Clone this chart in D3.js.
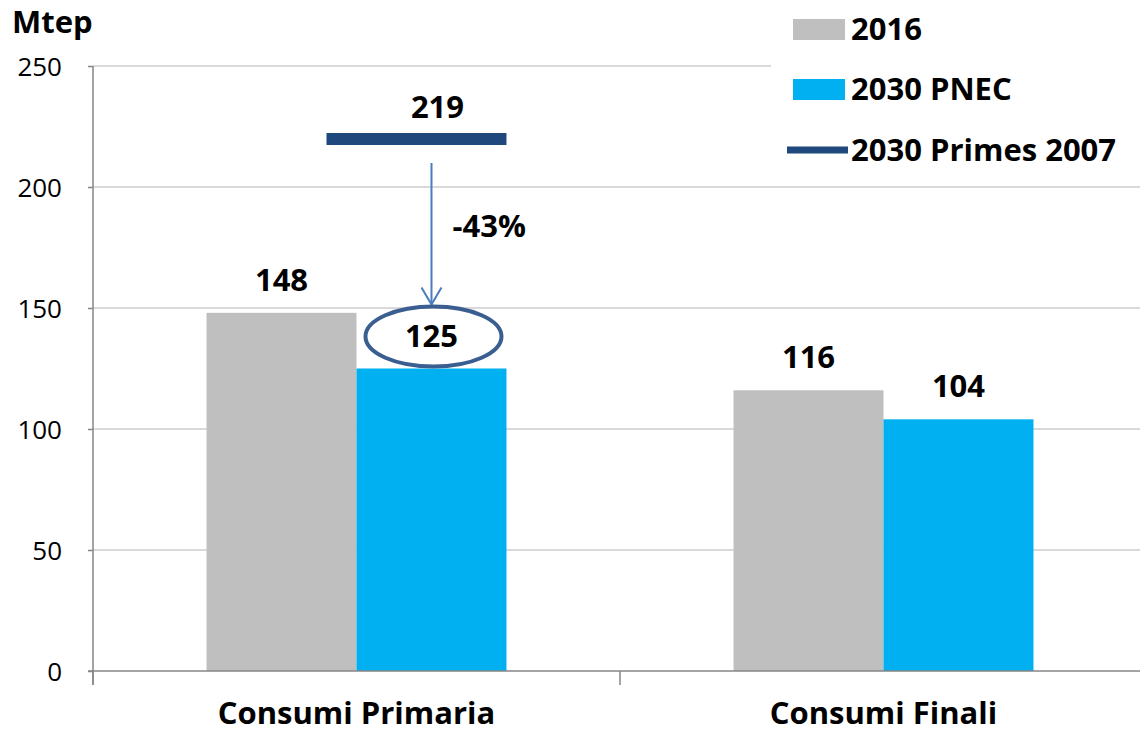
<!DOCTYPE html>
<html>
<head>
<meta charset="utf-8">
<title>Consumi energetici</title>
<script src="https://cdn.jsdelivr.net/npm/d3@7"></script>
<style>
  body { margin: 0; background: #fff; }
  text { font-family: "Open Sans", sans-serif; fill: #000; }
  .lbl { font-weight: bold; font-size: 31px; }
  .tick text { font-size: 26px; }
</style>
</head>
<body>
<script>
// data
var categories = ["Consumi Primaria", "Consumi Finali"];
var seriesNames = ["2016", "2030 PNEC"];
var values2016 = [148, 116];
var valuesPnec = [125, 104];
var primes2007 = [219];          // only for Consumi Primaria
var yTicks = [0, 50, 100, 150, 200, 250];
var deltaLabel = "-43%";

var colors = { "2016": "#bfbfbf", "2030 PNEC": "#00b0f0", primes: "#1f497d" };

var W = 1140, H = 734;
var plotL = 93, plotR = 1147, plotT = 66, plotB = 671;

var svg = d3.select("body").append("svg")
    .attr("width", W).attr("height", H);

var y = d3.scaleLinear().domain([0, 250]).range([plotB, plotT]);
var x0 = d3.scaleBand().domain(categories).range([plotL, plotR]);
var x1 = d3.scaleBand().domain(seriesNames).range([0, x0.bandwidth()]).paddingOuter(0.757);
var bw = x1.bandwidth();

// gridlines
svg.append("g").selectAll("line")
    .data(yTicks.slice(1))
    .enter().append("line")
    .attr("x1", plotL).attr("x2", W)
    .attr("y1", function(d) { return y(d); })
    .attr("y2", function(d) { return y(d); })
    .attr("stroke", "#d9d9d9").attr("stroke-width", 2);

// y axis
var yAxis = svg.append("g")
    .attr("class", "tick")
    .attr("transform", "translate(" + plotL + ",0)")
    .call(d3.axisLeft(y).tickValues(yTicks).tickSize(5).tickPadding(26));
yAxis.select(".domain").remove();
yAxis.selectAll("line").attr("stroke", "#868686").attr("stroke-width", 1.5);
yAxis.selectAll("text").attr("dy", "0.35em").style("font-size", "26px").style("font-family", "Open Sans");
svg.append("line")
    .attr("x1", plotL).attr("x2", plotL)
    .attr("y1", plotT).attr("y2", plotB + 14)
    .attr("stroke", "#868686").attr("stroke-width", 1.5);

// bars
var rows = categories.map(function(c, i) {
    return { cat: c, vals: [{ s: "2016", v: values2016[i] }, { s: "2030 PNEC", v: valuesPnec[i] }] };
});
var grp = svg.selectAll(".cat")
    .data(rows).enter().append("g")
    .attr("transform", function(d) { return "translate(" + x0(d.cat) + ",0)"; });
grp.selectAll("rect")
    .data(function(d) { return d.vals; })
    .enter().append("rect")
    .attr("x", function(d) { return x1(d.s); })
    .attr("width", bw)
    .attr("y", function(d) { return y(d.v); })
    .attr("height", function(d) { return y(0) - y(d.v); })
    .attr("fill", function(d) { return colors[d.s]; });

// value labels
grp.selectAll(".val")
    .data(function(d) { return d.vals; })
    .enter().append("text")
    .attr("class", "lbl")
    .attr("text-anchor", "middle")
    .attr("x", function(d) { return x1(d.s) + bw / 2; })
    .attr("y", function(d) { return y(d.v) - 22; })
    .text(function(d) { return d.v; });

// x axis
svg.append("line")
    .attr("x1", plotL - 5).attr("x2", W)
    .attr("y1", plotB).attr("y2", plotB)
    .attr("stroke", "#868686").attr("stroke-width", 1.5);
svg.append("g").selectAll("line")
    .data(categories)
    .enter().append("line")
    .attr("x1", function(d) { return x0(d); })
    .attr("x2", function(d) { return x0(d); })
    .attr("y1", plotB).attr("y2", plotB + 14)
    .attr("stroke", "#868686").attr("stroke-width", 1.5);
svg.append("g").selectAll("text")
    .data(categories)
    .enter().append("text")
    .attr("class", "lbl")
    .attr("text-anchor", "middle")
    .attr("x", function(d) { return x0(d) + x0.bandwidth() / 2; })
    .attr("y", 724)
    .text(function(d) { return d; });

// Primes 2007 marker
var c0 = x0(categories[0]);
var blueCx = c0 + x1("2030 PNEC") + bw / 2;
svg.append("line")
    .attr("x1", c0 + x1("2016") + bw * 0.8)
    .attr("x2", c0 + x1("2030 PNEC") + bw)
    .attr("y1", y(primes2007[0]) - 2).attr("y2", y(primes2007[0]) - 2)
    .attr("stroke", colors.primes).attr("stroke-width", 12);
svg.append("text").attr("class", "lbl")
    .attr("text-anchor", "middle")
    .attr("x", blueCx + 6).attr("y", y(primes2007[0]) - 23)
    .text(primes2007[0]);

// arrow
var arrowTop = y(primes2007[0]) + 22, arrowBot = y(valuesPnec[0]) - 64;
svg.append("line")
    .attr("x1", blueCx).attr("x2", blueCx)
    .attr("y1", arrowTop).attr("y2", arrowBot)
    .attr("stroke", "#4a7dc0").attr("stroke-width", 2);
svg.append("path")
    .attr("d", "M" + (blueCx - 10) + "," + (arrowBot - 17) + "L" + blueCx + "," + arrowBot + "L" + (blueCx + 10) + "," + (arrowBot - 17))
    .attr("fill", "none").attr("stroke", "#4a7dc0").attr("stroke-width", 2);
svg.append("text").attr("class", "lbl")
    .attr("x", blueCx + 21).attr("y", 237)
    .text(deltaLabel);

// ellipse around 125
svg.append("ellipse")
    .attr("cx", blueCx + 2).attr("cy", y(valuesPnec[0]) - 32)
    .attr("rx", 68).attr("ry", 30)
    .attr("fill", "none").attr("stroke", "#3b5e91").attr("stroke-width", 4);

// unit label
svg.append("text").attr("class", "lbl")
    .attr("x", 12).attr("y", 33)
    .text("Mtep");

// legend
var leg = svg.append("g");
leg.append("rect").attr("x", 771).attr("y", 0).attr("width", W - 771).attr("height", 176).attr("fill", "#fff");
var legItems = [
    { name: "2016", type: "rect", color: colors["2016"], y: 40 },
    { name: "2030 PNEC", type: "rect", color: colors["2030 PNEC"], y: 100 },
    { name: "2030 Primes 2007", type: "line", color: colors.primes, y: 161 }
];
legItems.forEach(function(d) {
    if (d.type === "rect") {
        leg.append("rect").attr("x", 793).attr("y", d.y - 21).attr("width", 52).attr("height", 21).attr("fill", d.color);
    } else {
        leg.append("line").attr("x1", 787).attr("x2", 848).attr("y1", d.y - 11).attr("y2", d.y - 11)
            .attr("stroke", d.color).attr("stroke-width", 7);
    }
    leg.append("text").attr("class", "lbl").attr("x", 851).attr("y", d.y).text(d.name);
});
</script>
</body>
</html>
